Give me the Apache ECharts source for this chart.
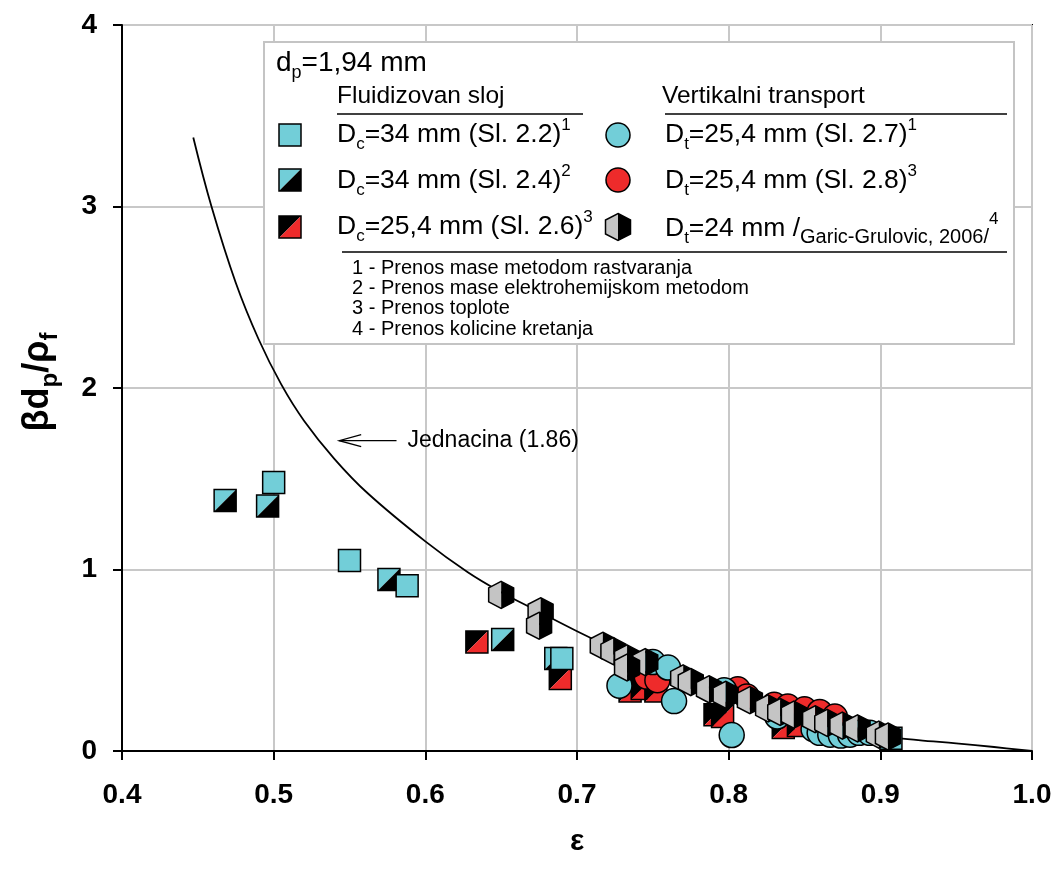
<!DOCTYPE html>
<html>
<head>
<meta charset="utf-8">
<script src="https://cdn.jsdelivr.net/npm/echarts@6/dist/echarts.min.js"></script>
<style>
html,body{margin:0;padding:0;background:#fff}
#chart{width:1056px;height:872px}
</style>
</head>
<body>
<div id="chart"></div>
<script>
// x: porosity eps, y: beta*dp/rho_f
var xTicks = [0.4, 0.5, 0.6, 0.7, 0.8, 0.9, 1.0];
var yTicks = [0, 1, 2, 3, 4];

// Jednacina (1.86)
var curveEps = [0.447,0.459,0.475,0.490,0.505,0.520,0.540,0.562,0.600,0.628,0.650,0.672,0.700,0.720,0.750,0.800,0.850,0.875,0.900,0.925,0.950,0.975,1.000];
var curveVal = [3.38,3.00,2.58,2.27,2.02,1.82,1.61,1.42,1.155,0.985,0.875,0.78,0.66,0.58,0.47,0.31,0.18,0.125,0.083,0.06,0.042,0.022,0.0];

// Fluidizovan sloj
var dc34Sl22 = [[0.500,1.48],[0.550,1.05],[0.588,0.91],[0.690,0.51],[0.907,0.07]];
var dc34Sl24 = [[0.468,1.38],[0.496,1.35],[0.576,0.945],[0.651,0.615],[0.686,0.51]];
var dc254Sl26 = [[0.634,0.60],[0.689,0.40],[0.735,0.33],[0.743,0.345],[0.752,0.33],[0.791,0.20],[0.796,0.19],[0.836,0.13],[0.846,0.14]];

// Vertikalni transport
var dt254Sl27 = [[0.728,0.36],[0.750,0.49],[0.760,0.46],[0.764,0.275],[0.797,0.335],[0.802,0.088],[0.832,0.19],[0.856,0.12],[0.860,0.10],[0.867,0.09],[0.874,0.085],[0.880,0.09],[0.886,0.10],[0.893,0.10]];
var dt254Sl28 = [[0.746,0.41],[0.753,0.39],[0.806,0.34],[0.812,0.30],[0.830,0.255],[0.839,0.245],[0.850,0.23],[0.860,0.215],[0.870,0.19]];
var dt24Garic = [[0.650,0.86],[0.676,0.77],[0.675,0.69],[0.717,0.58],[0.724,0.55],[0.733,0.51],[0.745,0.49],[0.733,0.46],[0.770,0.40],[0.775,0.38],[0.787,0.34],[0.798,0.31],[0.814,0.28],[0.826,0.235],[0.834,0.215],[0.843,0.20],[0.857,0.175],[0.865,0.155],[0.875,0.14],[0.885,0.125],[0.899,0.09],[0.905,0.08]];

var CYAN = '#72CED8', RED = '#EE2B2B', GRAY = '#C4C4C4';
var F = '"Liberation Sans", Arial, sans-serif';

function halfSquareShape(cx, cy, colA, colB, z) {
  var h = 11;
  return [
    {type:'polygon', z:z, shape:{points:[[cx-h,cy+h],[cx-h,cy-h],[cx+h,cy-h]]}, style:{fill:colA}},
    {type:'polygon', z:z, shape:{points:[[cx-h,cy+h],[cx+h,cy-h],[cx+h,cy+h]]}, style:{fill:colB}},
    {type:'rect', z:z, shape:{x:cx-h,y:cy-h,width:2*h,height:2*h}, style:{fill:'none',stroke:'#000',lineWidth:1.5}}
  ];
}
function hexShape(cx, cy, z) {
  var w = 12.5, t = 13.5, s = 7;
  return [
    {type:'polygon', z:z, shape:{points:[[cx,cy-t],[cx-w,cy-s],[cx-w,cy+s],[cx,cy+t]]}, style:{fill:GRAY}},
    {type:'polygon', z:z, shape:{points:[[cx,cy-t],[cx+w,cy-s],[cx+w,cy+s],[cx,cy+t]]}, style:{fill:'#000'}},
    {type:'polygon', z:z, shape:{points:[[cx,cy-t],[cx+w,cy-s],[cx+w,cy+s],[cx,cy+t],[cx-w,cy+s],[cx-w,cy-s]]}, style:{fill:'none',stroke:'#000',lineWidth:1.5}}
  ];
}
function halfSquareItem(colA, colB) {
  return function (params, api) {
    var p = api.coord([api.value(0), api.value(1)]);
    return {type:'group', children: halfSquareShape(p[0], p[1], colA, colB)};
  };
}
function hexItem(params, api) {
  var p = api.coord([api.value(0), api.value(1)]);
  return {type:'group', children: hexShape(p[0], p[1])};
}

var chart = echarts.init(document.getElementById('chart'));

var option = {
  animation: false,
  backgroundColor: '#fff',
  grid: {left:122, right:24, top:25, bottom:121, show:true, borderColor:'#000', borderWidth:2},
  xAxis: {
    type:'value', min:0.4, max:1.0, interval:0.1,
    name:'ε', nameLocation:'middle', nameGap:76,
    nameTextStyle:{fontSize:30, fontWeight:'bold', fontFamily:F, color:'#000'},
    axisLine:{lineStyle:{color:'#000', width:2}},
    axisTick:{show:true, length:9, lineStyle:{color:'#000', width:2}},
    axisLabel:{fontSize:28, fontWeight:'bold', fontFamily:F, color:'#000', margin:30,
      formatter:function (v) { return v.toFixed(1); }},
    splitLine:{show:true, lineStyle:{color:'#c8c8c8', width:2}}
  },
  yAxis: {
    type:'value', min:0, max:4, interval:1,
    axisLine:{show:true, lineStyle:{color:'#000', width:2}},
    axisTick:{show:true, length:9, lineStyle:{color:'#000', width:2}},
    axisLabel:{fontSize:28, fontWeight:'bold', fontFamily:F, color:'#000', margin:25},
    splitLine:{show:true, lineStyle:{color:'#c8c8c8', width:2}}
  },
  series: [
    {type:'line', data: curveEps.map(function (e, i) { return [e, curveVal[i]]; }),
      smooth:0.4, showSymbol:false, lineStyle:{color:'#000', width:1.8}, z:1, silent:true},
    {type:'scatter', data: dc34Sl22, symbol:'rect', symbolSize:22,
      itemStyle:{color:CYAN, borderColor:'#000', borderWidth:1.5, opacity:1}, z:2},
    {type:'custom', data: dc34Sl24, renderItem: halfSquareItem(CYAN, '#000'), z:2},
    {type:'custom', data: dc254Sl26, renderItem: halfSquareItem('#000', RED), z:2},
    {type:'scatter', data: dt254Sl28, symbol:'circle', symbolSize:25,
      itemStyle:{color:RED, borderColor:'#000', borderWidth:1.5, opacity:1}, z:3},
    {type:'scatter', data: dt254Sl27, symbol:'circle', symbolSize:25,
      itemStyle:{color:CYAN, borderColor:'#000', borderWidth:1.5, opacity:1}, z:3},
    {type:'custom', data: dt24Garic, renderItem: hexItem, z:4}
  ]
};
chart.setOption(option);

// legend and annotations
var legendRich = {
  m:{fontSize:26.5, lineHeight:36, verticalAlign:'middle', fontFamily:F, fill:'#000'},
  s:{fontSize:17, lineHeight:12, verticalAlign:'bottom', fontFamily:F, fill:'#000'},
  u:{fontSize:17, lineHeight:12, verticalAlign:'top', fontFamily:F, fill:'#000'},
  n:{fontSize:20, lineHeight:31, verticalAlign:'bottom', fontFamily:F, fill:'#000'},
  h:{fontSize:24.5, lineHeight:36, verticalAlign:'middle', fontFamily:F, fill:'#000'},
  d:{fontSize:28, lineHeight:38, verticalAlign:'middle', fontFamily:F, fill:'#000'},
  ds:{fontSize:18, lineHeight:12, verticalAlign:'bottom', fontFamily:F, fill:'#000'}
};
function txt(x, y, text) {
  return {type:'text', x:x, y:y, z:20,
    style:{text:text, rich:legendRich, fontSize:24, fontFamily:F, fill:'#000', align:'left', verticalAlign:'middle'}};
}
function note(y, text) {
  return {type:'text', x:352, y:y, z:20, style:{text:text, fontSize:20, fontFamily:F, fill:'#000', verticalAlign:'middle'}};
}
function hline(x1, x2, y) {
  return {type:'line', z:20, shape:{x1:x1, y1:y, x2:x2, y2:y}, style:{stroke:'#000', lineWidth:1.5}};
}

var legendEls = [
  {type:'rect', z:19, shape:{x:264, y:42, width:750, height:302}, style:{fill:'#fff', stroke:'#c4c4c4', lineWidth:2}},
  txt(276, 63, '{d|d}{ds|p}{d|=1,94 mm}'),
  txt(337, 96, '{h|Fluidizovan sloj}'),
  txt(662, 96, '{h|Vertikalni transport}'),
  hline(337, 583, 114), hline(665, 1007, 114),
  txt(337, 135, '{m|D}{s|c}{m|=34 mm (Sl. 2.2)}{u|1}'),
  txt(337, 181, '{m|D}{s|c}{m|=34 mm (Sl. 2.4)}{u|2}'),
  txt(337, 227, '{m|D}{s|c}{m|=25,4 mm (Sl. 2.6)}{u|3}'),
  txt(665, 135, '{m|D}{s|t}{m|=25,4 mm (Sl. 2.7)}{u|1}'),
  txt(665, 181, '{m|D}{s|t}{m|=25,4 mm (Sl. 2.8)}{u|3}'),
  txt(665, 229, '{m|D}{s|t}{m|=24 mm /}{n|Garic-Grulovic, 2006/}{u|4}'),
  hline(342, 1007, 252),
  note(268, '1 - Prenos mase metodom rastvaranja'),
  note(288, '2 - Prenos mase elektrohemijskom metodom'),
  note(308, '3 - Prenos toplote'),
  note(329, '4 - Prenos kolicine kretanja'),
  {type:'rect', z:20, shape:{x:279, y:124, width:22, height:22}, style:{fill:CYAN, stroke:'#000', lineWidth:1.5}},
  {type:'group', children: halfSquareShape(290, 180, CYAN, '#000', 21)},
  {type:'group', children: halfSquareShape(290, 227, '#000', RED, 21)},
  {type:'circle', z:20, shape:{cx:618, cy:135, r:12}, style:{fill:CYAN, stroke:'#000', lineWidth:1.5}},
  {type:'circle', z:20, shape:{cx:618, cy:180, r:12}, style:{fill:RED, stroke:'#000', lineWidth:1.5}},
  {type:'group', children: hexShape(618, 227, 21)}
];

// arrow pointing at the curve, anchored in data coordinates
var tip = chart.convertToPixel({gridIndex:0}, [0.5432, 1.71]);
var tail = chart.convertToPixel({gridIndex:0}, [0.5810, 1.71]);
var annotEls = [
  {type:'line', z:20, shape:{x1:tip[0], y1:tip[1], x2:tail[0], y2:tail[1]}, style:{stroke:'#000', lineWidth:1.3}},
  {type:'polyline', z:20, shape:{points:[[tip[0]+22, tip[1]-6],[tip[0], tip[1]],[tip[0]+22, tip[1]+6]]}, style:{stroke:'#000', lineWidth:1.3, fill:null}},
  {type:'text', z:20, x:tail[0]+11, y:tip[1], style:{text:'Jednacina (1.86)', fontSize:23, fontFamily:F, fill:'#000', verticalAlign:'middle'}},
  {type:'text', z:20, x:38, y:382, rotation:Math.PI/2,
    style:{text:'{b|βd}{bs|p}{b|/ρ}{bs|f}', align:'center', verticalAlign:'middle',
      rich:{
        b:{fontSize:36, fontWeight:'bold', lineHeight:48, verticalAlign:'middle', fontFamily:F, fill:'#000'},
        bs:{fontSize:24, fontWeight:'bold', lineHeight:22, verticalAlign:'bottom', fontFamily:F, fill:'#000'}
      }}}
];

chart.setOption({graphic: legendEls.concat(annotEls)});
</script>
</body>
</html>
